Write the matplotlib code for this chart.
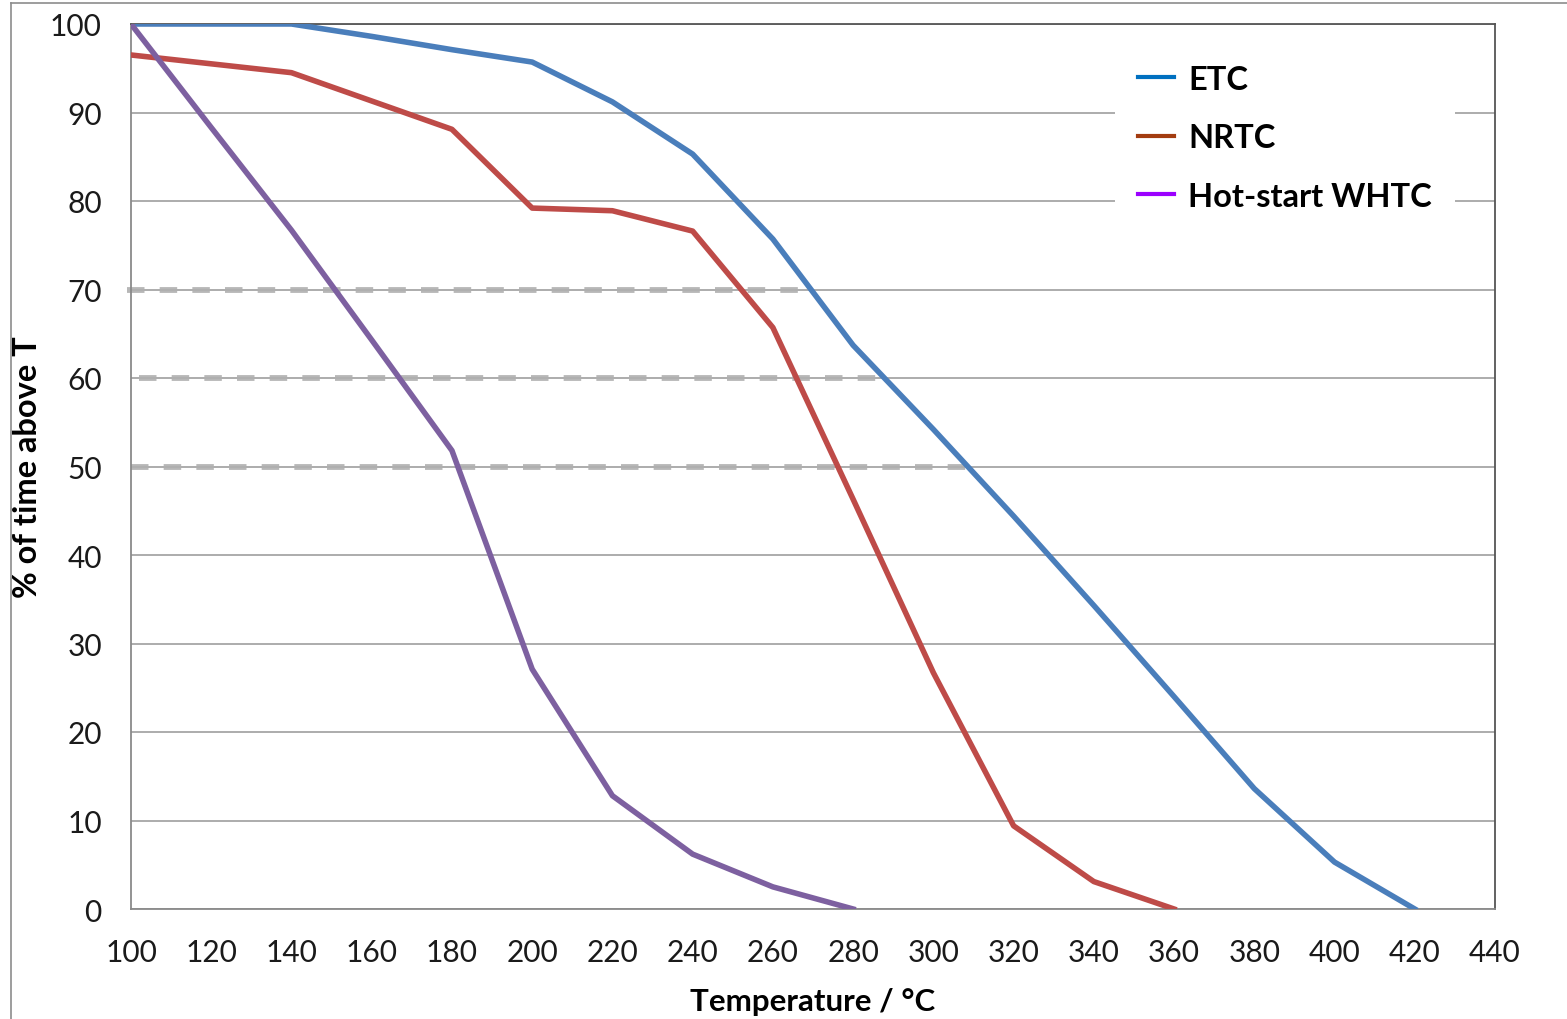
import matplotlib
matplotlib.use("Agg")
import matplotlib.pyplot as plt
from matplotlib.lines import Line2D

plt.rcParams["font.family"] = ["Lato", "DejaVu Sans"]

# ---------------------------------------------------------------------------
# Data
# ---------------------------------------------------------------------------

temps = [100, 120, 140, 160, 180, 200, 220, 240, 260, 280, 300, 320, 340, 360, 380, 400, 420]

etc = [100.0, 100.0, 100.0, 98.6, 97.1, 95.7, 91.2, 85.3, 75.7, 63.7, 54.2,
       44.4, 34.3, 24.0, 13.6, 5.3, 0.0]
nrtc_t = temps[:14]
nrtc = [96.5, 95.5, 94.5, 91.3, 88.1, 79.2, 78.9, 76.6, 65.7, 46.3, 26.7,
        9.4, 3.1, 0.0]
whtc_t = temps[:10]
whtc = [100.0, 88.3, 76.7, 64.3, 51.8, 27.1, 12.8, 6.2, 2.5, 0.0]

series_names = ["ETC", "NRTC", "Hot-start WHTC"]
line_colors = ["#4a7ebb", "#be4b48", "#7d60a0"]
legend_colors = ["#0070c0", "#a33c10", "#9b00ff"]

# threshold guides: level reached and temperature where ETC drops below it
guide_levels = [70, 60, 50]
guide_start = [99, 102, 100]
guide_end = [270, 288, 309]

xticks = list(range(100, 441, 20))
yticks = list(range(0, 101, 10))

# ---------------------------------------------------------------------------
# Figure
# ---------------------------------------------------------------------------

fig = plt.figure(figsize=(15.67, 10.2), dpi=100)
ax = fig.add_axes([131 / 1567, 1 - 910 / 1020, (1495 - 131) / 1567, (910 - 25) / 1020])

# outer chart border (left and top visible in the reference)
fig.add_artist(Line2D([11 / 1567, 11 / 1567], [0, 1 - 4 / 1020],
                      transform=fig.transFigure, color="#8c8c8c", lw=1.2))
fig.add_artist(Line2D([11 / 1567, 1], [1 - 4 / 1020, 1 - 4 / 1020],
                      transform=fig.transFigure, color="#8c8c8c", lw=1.2))

ax.set_xlim(100, 440)
ax.set_ylim(0, 100)
ax.set_xticks(xticks)
ax.set_yticks(yticks)
ax.tick_params(length=0, labelsize=21.5, pad=21, labelcolor="#1a1a1a")
ax.grid(axis="y", color="#a6a6a6", lw=1.3)
ax.set_axisbelow(True)
for side in ["left", "bottom", "top", "right"]:
    ax.spines[side].set_color("#8a8a8a")
    ax.spines[side].set_linewidth(1.3)
ax.spines["top"].set_color("#555555")
ax.spines["right"].set_color("#555555")

for lvl, x0, x1 in zip(guide_levels, guide_start, guide_end):
    ax.plot([x0, x1], [lvl, lvl], color="#b0b0b0", lw=4.2, alpha=0.9,
            dashes=(3.0, 2.6), solid_capstyle="butt", clip_on=False, zorder=2)

ax.plot(temps, etc, color=line_colors[0], lw=4, zorder=3, solid_joinstyle="round")
ax.plot(nrtc_t, nrtc, color=line_colors[1], lw=4, zorder=3, solid_joinstyle="round")
ax.plot(whtc_t, whtc, color=line_colors[2], lw=4, zorder=3, solid_joinstyle="round")

ax.set_xlabel("Temperature / °C", fontsize=22.5, fontweight="bold", labelpad=15)
ax.set_ylabel("% of time above T", fontsize=23.5, fontweight="bold", labelpad=6)

handles = [Line2D([], [], color=c, lw=3) for c in legend_colors]
leg = ax.legend(handles, series_names, loc="upper left",
                bbox_to_anchor=((1115 - 131) / 1364, 1 - 18 / 885),
                frameon=True, fancybox=False, framealpha=1,
                prop={"size": 23.5, "weight": "bold"},
                handlelength=1.1, handletextpad=0.45, labelspacing=0.9,
                borderpad=0.7, borderaxespad=0)
leg.get_frame().set_edgecolor("white")
leg.get_frame().set_linewidth(0)

fig.savefig("out.png", dpi=100)
